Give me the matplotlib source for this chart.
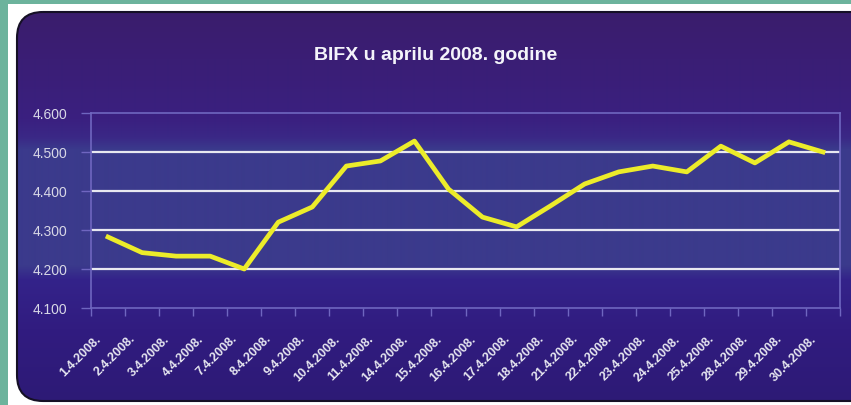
import numpy as np
import matplotlib
matplotlib.use("Agg")
import matplotlib.pyplot as plt
from matplotlib.patches import FancyBboxPatch, Rectangle
from matplotlib.colors import to_rgb

# ---- data ----
dates = ["1.4.2008.", "2.4.2008.", "3.4.2008.", "4.4.2008.", "7.4.2008.", "8.4.2008.",
         "9.4.2008.", "10.4.2008.", "11.4.2008.", "14.4.2008.", "15.4.2008.", "16.4.2008.",
         "17.4.2008.", "18.4.2008.", "21.4.2008.", "22.4.2008.", "23.4.2008.", "24.4.2008.",
         "25.4.2008.", "28.4.2008.", "29.4.2008.", "30.4.2008."]
bifx = [4.282, 4.242, 4.233, 4.233, 4.200, 4.320, 4.359, 4.464, 4.477, 4.528,
        4.405, 4.333, 4.308, 4.362, 4.418, 4.449, 4.464, 4.449, 4.515, 4.472, 4.526, 4.500]
yticks = [4.1, 4.2, 4.3, 4.4, 4.5, 4.6]
ytick_labels = ["4.100", "4.200", "4.300", "4.400", "4.500", "4.600"]
title = "BIFX u aprilu 2008. godine"

W, H = 851, 406
fig = plt.figure(figsize=(W / 100, H / 100), dpi=100)
fig.patch.set_facecolor("#6cb39c")

# ---- background (pixel coordinates) ----
bg = fig.add_axes([0, 0, 1, 1])
bg.set_xlim(0, W)
bg.set_ylim(H, 0)
bg.axis("off")
bg.add_patch(Rectangle((8, 5), W - 8, H - 5, facecolor="white", edgecolor="none"))

panel = FancyBboxPatch((17, 13), W - 17 + 30, 389, boxstyle="round,pad=0,rounding_size=26",
                       facecolor="none", edgecolor="#151025", linewidth=1.5, zorder=2)
bg.add_patch(panel)

stops_y = [0, 60, 120, 138, 150, 266, 280, 330, 406]
stops_c = ["#3b1d6a", "#3a1e75", "#3a2080", "#3a2886", "#3b3a8c", "#3b3a8c", "#34238a",
           "#311c80", "#2d1a75"]
ys = np.arange(H)
cols = np.array([to_rgb(c) for c in stops_c])
grad = np.stack([np.interp(ys, stops_y, cols[:, k]) for k in range(3)], axis=-1)
grad = np.repeat(grad[:, None, :], 2, axis=1)
im = bg.imshow(grad, extent=(0, W, H, 0), aspect="auto", zorder=1, interpolation="bilinear")
im.set_clip_path(panel)

# ---- chart ----
ax = fig.add_axes([91 / W, 1 - 309 / H, (840 - 91) / W, (309 - 114) / H])
ax.set_facecolor("none")
x = np.arange(len(dates))
ax.set_xlim(-0.5, len(dates) - 0.5)
ax.set_ylim(4.1, 4.6)

for yv in yticks[1:-1]:
    ax.axhline(yv, color="#e8e8f0", lw=1.6, zorder=1)

ax.plot(x, bifx, color="#ecec2a", lw=3.4, solid_joinstyle="round", zorder=3)

for side in ["left", "bottom", "top", "right"]:
    ax.spines[side].set_color("#6f66c0")
    ax.spines[side].set_linewidth(1.2)

ax.set_yticks(yticks)
ax.set_yticklabels(ytick_labels, color="#d8d8e6", fontsize=10, family="Liberation Sans")
ax.tick_params(axis="y", length=7, color="#6f66c0", width=1, pad=10)

ax.set_xticks(np.arange(len(dates) + 1) - 0.5, minor=False)
ax.set_xticklabels([""] * (len(dates) + 1))
ax.tick_params(axis="x", length=6, color="#6f66c0", width=1)
for i, d in enumerate(dates):
    ax.text(i - 0.38, 4.1 - 0.062, d, rotation=45, ha="right", va="top",
            rotation_mode="anchor", color="#e6e6f0", fontsize=9, fontweight="bold",
            family="Liberation Sans", clip_on=False)

fig.text(436 / W, 1 - 55 / H, title, ha="center", va="center", color="#f4f4fa",
         fontsize=14, fontweight="bold", family="Liberation Sans")

fig.savefig("out.png", dpi=100, facecolor=fig.get_facecolor())
